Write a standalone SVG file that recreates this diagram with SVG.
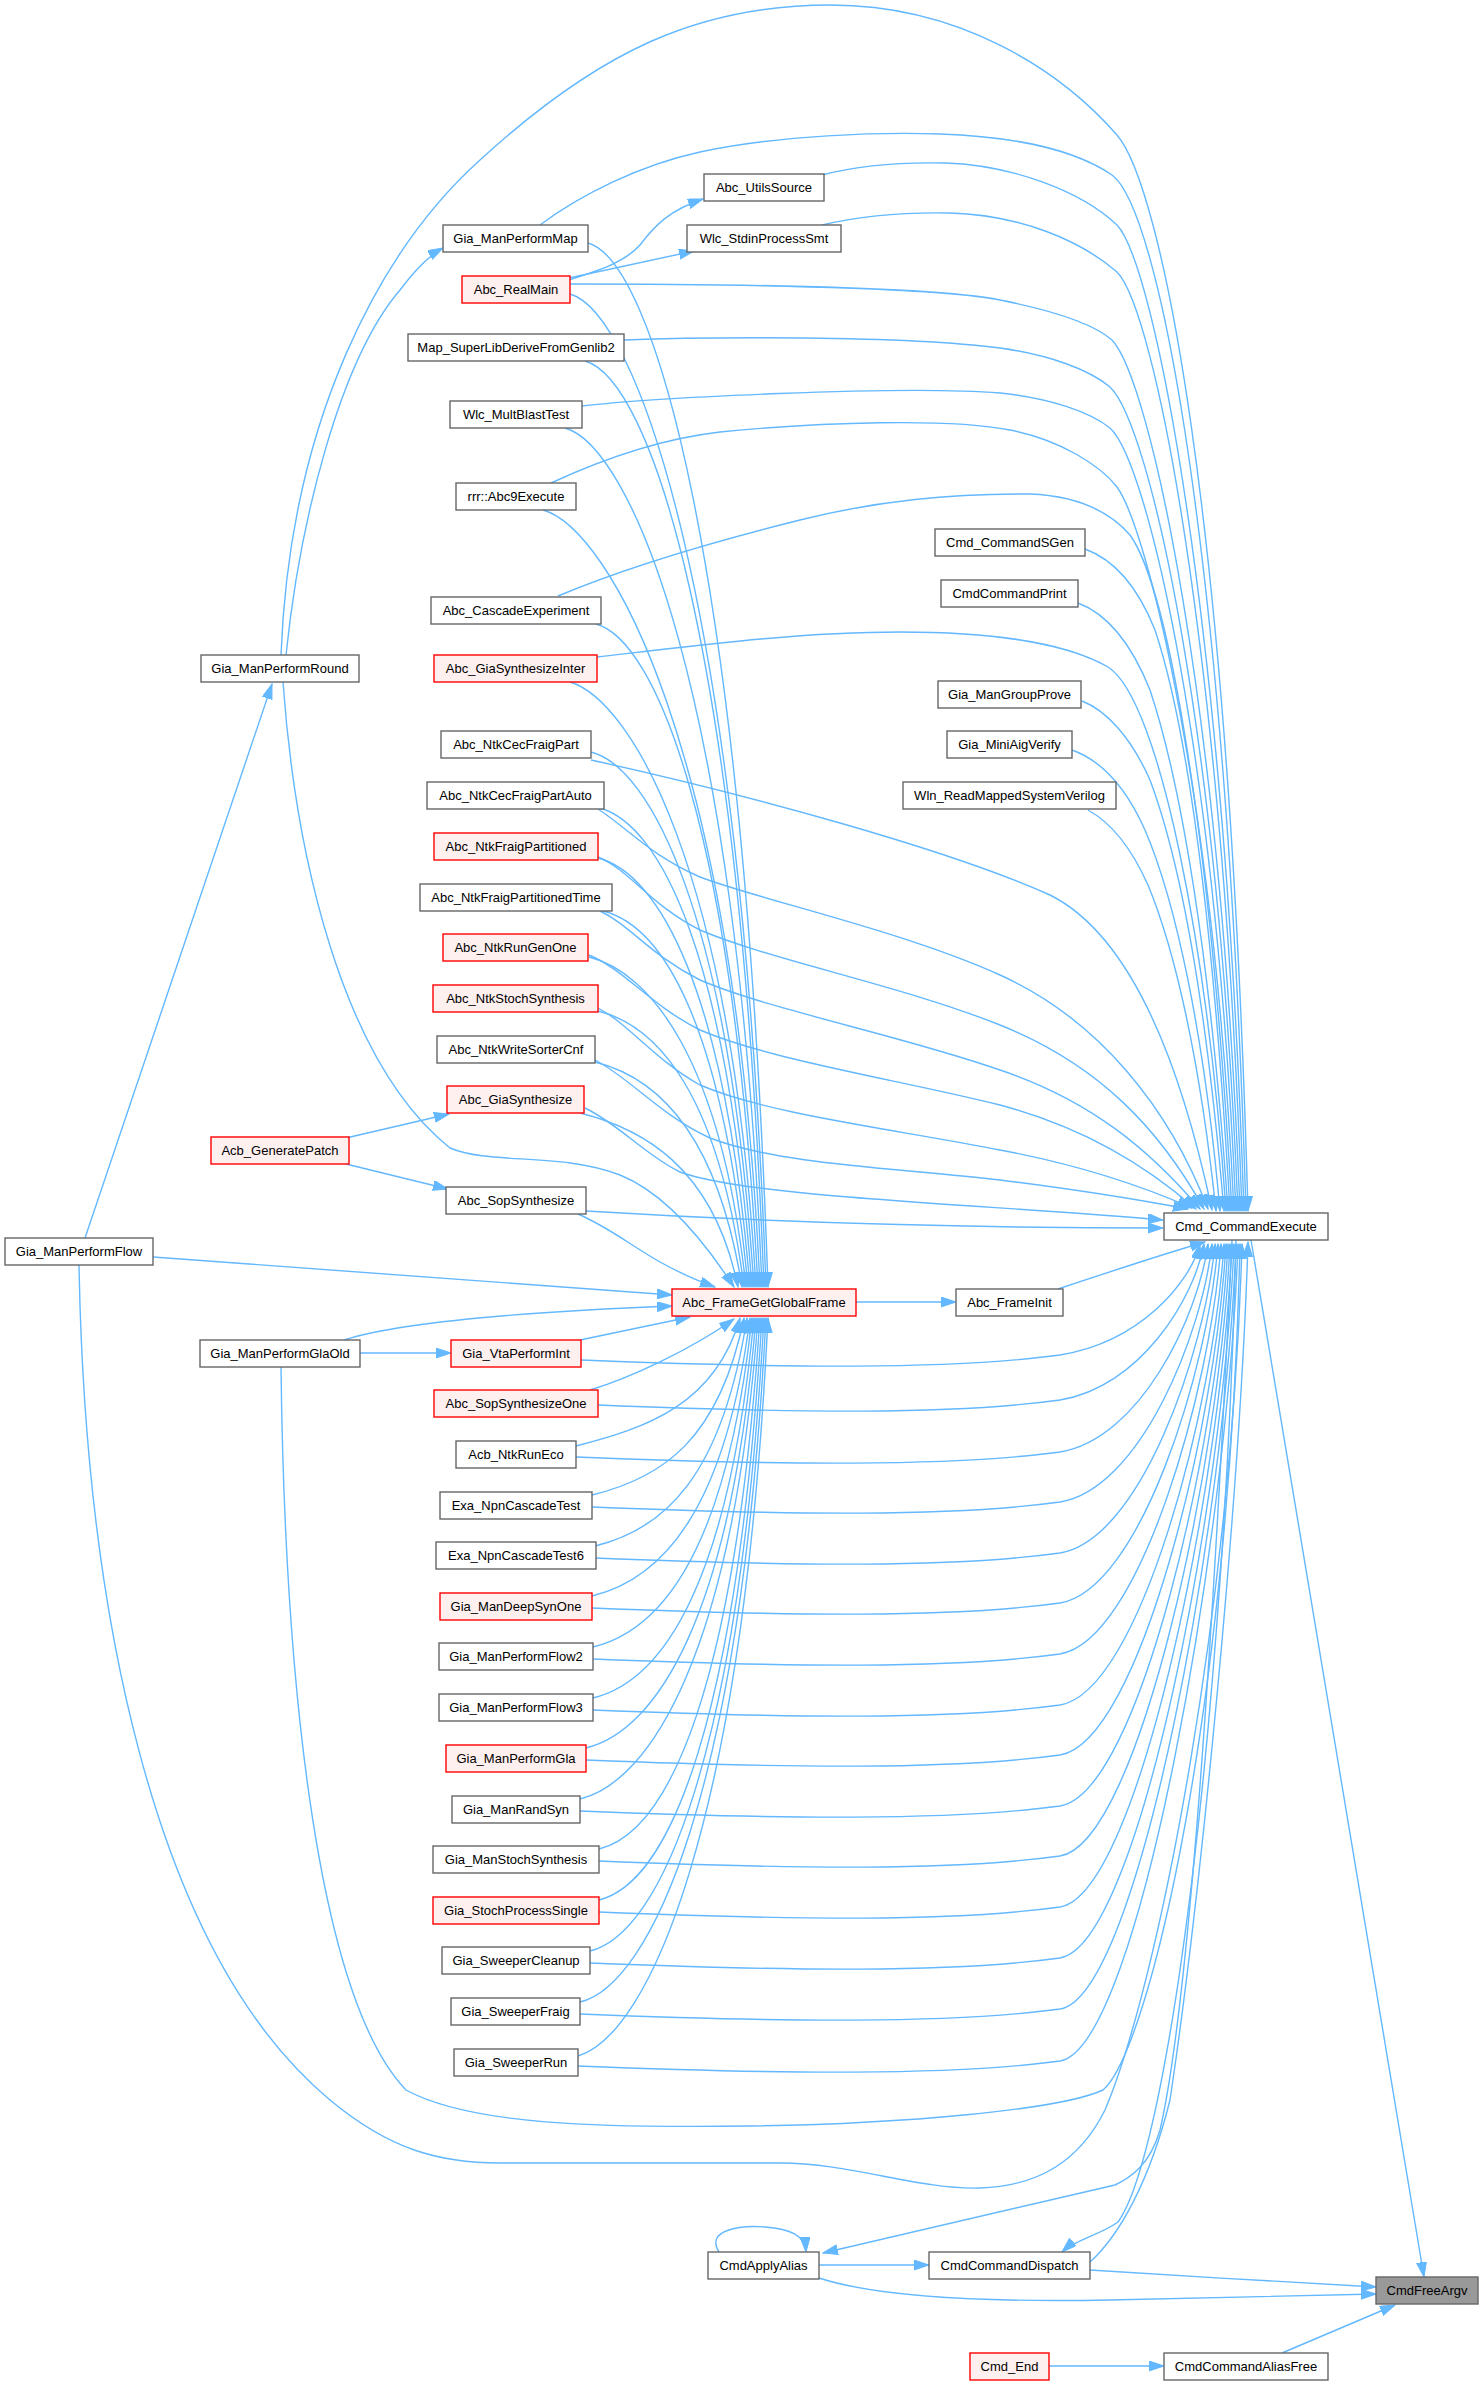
<svg xmlns="http://www.w3.org/2000/svg" width="1484" height="2385" viewBox="0 0 1484 2385">
<style>
.e{fill:none;stroke:#63b8ff;stroke-width:1.4;marker-end:url(#ah)}
.n rect{fill:#ffffff;stroke:#666666;stroke-width:1.4}
.r rect{fill:#fff0f0;stroke:#ff0000;stroke-width:1.4}
.g rect{fill:#999999;stroke:#666666;stroke-width:1.4}
text{font-family:"Liberation Sans",Arial,Helvetica,sans-serif;font-size:13px;fill:#000000;text-anchor:middle}
</style>
<defs>
<marker id="ah" markerUnits="userSpaceOnUse" markerWidth="16" markerHeight="12" refX="15" refY="5" orient="auto">
<path d="M0,0 L15,5 L0,10 z" fill="#63b8ff" stroke="#63b8ff" stroke-width="1"/>
</marker>
</defs>
<rect x="0" y="0" width="1484" height="2385" fill="#ffffff"/>
<g id="edges">
<path class="e" d="M1282,2353 L1395,2305"/>
<path class="e" d="M1049,2366 L1164,2366"/>
<path class="e" d="M1090,2270 C1180,2276 1290,2282 1376,2287"/>
<path class="e" d="M819,2278 C880,2298 1000,2302 1110,2300 C1220,2298 1320,2295 1376,2294"/>
<path class="e" d="M819,2265 L929,2265"/>
<path class="e" d="M719,2252 C705,2230 740,2225 765,2227 C790,2229 805,2235 806,2252"/>
<path class="e" d="M1232,1240 C1215,1600 1190,2000 1160,2130 C1150,2165 1130,2178 1115,2185 L823,2253"/>
<path class="e" d="M1236,1240 C1225,1700 1170,2150 1118,2222 C1100,2235 1075,2240 1062,2252"/>
<path class="e" d="M1090,2262 C1120,2235 1150,2180 1170,2100 C1200,1900 1240,1500 1248,1242"/>
<path class="e" d="M1251,1240 L1424,2277"/>
<path class="e" d="M1058,1289 C1100,1275 1160,1255 1205,1242"/>
<path class="e" d="M856,1302 L956,1302"/>
<path class="e" d="M281,655 C290,420 380,250 480,160 C600,50 700,5 830,5 C960,5 1060,70 1117,135 C1160,185 1228,500 1248,1211"/>
<path class="e" d="M540,225 C580,195 640,165 700,152 C780,135 880,132 940,134 C1020,137 1075,150 1112,175 C1160,210 1226,560 1246,1211"/>
<path class="e" d="M822,175 C860,165 900,162 945,163 C1010,165 1080,190 1117,225 C1155,265 1224,620 1244,1211"/>
<path class="e" d="M822,225 C860,216 900,212 950,213 C1020,215 1080,240 1117,272 C1155,310 1222,650 1242,1211"/>
<path class="e" d="M570,284 C800,284 950,290 1000,300 C1060,312 1095,325 1112,340 C1150,380 1220,700 1240,1211"/>
<path class="e" d="M624,340 C700,337 900,335 1000,348 C1050,355 1090,370 1110,387 C1150,425 1218,730 1238,1211"/>
<path class="e" d="M582,406 C650,398 900,385 1000,393 C1050,398 1090,412 1110,428 C1148,462 1216,760 1236,1211"/>
<path class="e" d="M551,483 C590,465 650,440 720,432 C820,422 950,418 1010,430 C1060,440 1100,465 1117,487 C1148,530 1214,800 1234,1211"/>
<path class="e" d="M558,596 C620,570 700,545 800,520 C880,500 950,494 1030,494 C1080,496 1110,512 1130,535 C1170,590 1212,850 1232,1211"/>
<path class="e" d="M1085,549 C1110,558 1135,580 1155,630 C1185,720 1212,900 1230,1211"/>
<path class="e" d="M1078,603 C1105,613 1130,640 1150,690 C1180,780 1210,950 1228,1211"/>
<path class="e" d="M597,657 C700,645 800,632 900,632 C1000,632 1070,645 1108,667 C1160,700 1208,950 1226,1211"/>
<path class="e" d="M1082,701 C1105,710 1130,735 1150,780 C1180,860 1206,1000 1224,1211"/>
<path class="e" d="M1072,750 C1100,760 1125,785 1145,830 C1175,900 1204,1030 1220,1211"/>
<path class="e" d="M1088,810 C1110,822 1130,845 1148,885 C1175,950 1200,1060 1216,1211"/>
<path class="e" d="M591,760 C750,795 950,850 1050,895 C1130,935 1180,1060 1212,1210"/>
<path class="e" d="M598,809 C630,830 650,855 700,877 C760,900 900,930 1000,975 C1100,1020 1170,1110 1208,1209"/>
<path class="e" d="M598,857 C630,870 650,905 700,930 C770,960 900,985 1000,1025 C1100,1065 1160,1130 1204,1209"/>
<path class="e" d="M600,911 C630,925 650,955 700,980 C770,1010 900,1035 1000,1070 C1090,1100 1150,1150 1200,1209"/>
<path class="e" d="M589,955 C625,970 650,1005 700,1030 C770,1060 900,1080 1000,1105 C1085,1128 1145,1165 1196,1209"/>
<path class="e" d="M598,1008 C630,1025 655,1060 700,1085 C770,1115 900,1130 1000,1150 C1080,1165 1140,1185 1192,1208"/>
<path class="e" d="M595,1060 C630,1078 660,1115 710,1138 C780,1165 900,1168 1000,1180 C1080,1190 1130,1198 1188,1209"/>
<path class="e" d="M585,1108 C620,1125 645,1155 680,1172 C750,1198 1000,1205 1163,1220"/>
<path class="e" d="M586,1211 C700,1218 900,1228 1163,1228"/>
<path class="e" d="M581,1360 C781,1368 950,1370 1060,1355 C1140,1342 1190,1283 1200,1244"/>
<path class="e" d="M598,1405 C798,1413 950,1415 1060,1400 C1140,1387 1194,1299 1204,1244"/>
<path class="e" d="M576,1457 C776,1465 950,1467 1060,1452 C1140,1439 1198,1317 1208,1244"/>
<path class="e" d="M592,1507 C792,1515 950,1517 1060,1502 C1140,1489 1202,1335 1212,1244"/>
<path class="e" d="M595,1558 C795,1566 950,1568 1060,1553 C1140,1540 1205,1353 1215,1244"/>
<path class="e" d="M592,1608 C792,1616 950,1618 1060,1603 C1140,1590 1208,1370 1218,1244"/>
<path class="e" d="M593,1659 C793,1667 950,1669 1060,1654 C1140,1641 1211,1388 1221,1244"/>
<path class="e" d="M593,1710 C793,1718 950,1720 1060,1705 C1140,1692 1214,1406 1224,1244"/>
<path class="e" d="M586,1760 C786,1768 950,1770 1060,1755 C1140,1742 1216,1423 1226,1244"/>
<path class="e" d="M580,1811 C780,1819 950,1821 1060,1806 C1140,1793 1218,1441 1228,1244"/>
<path class="e" d="M599,1861 C799,1869 950,1871 1060,1856 C1140,1843 1220,1459 1230,1244"/>
<path class="e" d="M599,1912 C799,1920 950,1922 1060,1907 C1140,1894 1222,1476 1232,1244"/>
<path class="e" d="M590,1963 C790,1971 950,1973 1060,1958 C1140,1945 1224,1494 1234,1244"/>
<path class="e" d="M580,2014 C780,2022 950,2024 1060,2009 C1140,1996 1226,1512 1236,1244"/>
<path class="e" d="M578,2066 C778,2074 950,2076 1060,2061 C1140,2048 1228,1530 1238,1244"/>
<path class="e" d="M281,1367 C285,1700 320,2000 406,2090 C470,2125 600,2128 750,2126 C900,2124 1060,2110 1103,2090 C1150,2050 1230,1700 1240,1244"/>
<path class="e" d="M79,1265 C85,1600 150,1950 330,2100 C390,2150 440,2163 500,2163 L780,2163 C850,2163 920,2190 980,2188 C1040,2186 1080,2160 1105,2110 C1160,1980 1232,1600 1242,1244"/>
<path class="e" d="M588,243 C653,261 743,556 768,1287"/>
<path class="e" d="M570,294 C635,312 741,592 766,1287"/>
<path class="e" d="M585,361 C650,379 739,639 764,1287"/>
<path class="e" d="M565,428 C630,446 737,686 762,1287"/>
<path class="e" d="M543,510 C608,528 735,743 760,1287"/>
<path class="e" d="M596,624 C655,640 733,823 758,1287"/>
<path class="e" d="M570,682 C630,700 731,864 756,1287"/>
<path class="e" d="M591,752 C650,767 729,913 754,1287"/>
<path class="e" d="M600,808 C660,825 727,952 752,1287"/>
<path class="e" d="M598,858 C658,873 725,987 750,1287"/>
<path class="e" d="M603,911 C663,926 723,1024 748,1287"/>
<path class="e" d="M589,957 C649,972 721,1056 746,1287"/>
<path class="e" d="M598,1011 C658,1026 719,1094 744,1287"/>
<path class="e" d="M595,1062 C655,1077 717,1130 742,1287"/>
<path class="e" d="M580,1113 C640,1128 713,1165 738,1287"/>
<path class="e" d="M578,1214 C610,1228 630,1245 660,1262 C680,1273 695,1280 715,1287"/>
<path class="e" d="M283,682 C295,850 340,1060 450,1148 C490,1165 560,1152 620,1175 C670,1195 710,1250 734,1287"/>
<path class="e" d="M153,1257 L672,1295"/>
<path class="e" d="M344,1340 C400,1322 520,1312 672,1306"/>
<path class="e" d="M580,1340 L690,1317"/>
<path class="e" d="M590,1390 C630,1378 690,1350 734,1319"/>
<path class="e" d="M576,1446 C646,1428 715,1405 740,1318"/>
<path class="e" d="M592,1495 C662,1478 719,1440 744,1318"/>
<path class="e" d="M595,1546 C665,1529 722,1476 747,1318"/>
<path class="e" d="M592,1596 C662,1579 725,1511 750,1318"/>
<path class="e" d="M593,1647 C663,1630 727,1547 752,1318"/>
<path class="e" d="M593,1698 C663,1681 729,1583 754,1318"/>
<path class="e" d="M586,1748 C656,1731 731,1618 756,1318"/>
<path class="e" d="M580,1799 C650,1782 733,1653 758,1318"/>
<path class="e" d="M599,1849 C669,1832 735,1688 760,1318"/>
<path class="e" d="M599,1900 C669,1883 737,1724 762,1318"/>
<path class="e" d="M590,1951 C660,1934 739,1760 764,1318"/>
<path class="e" d="M580,2002 C650,1985 741,1795 766,1318"/>
<path class="e" d="M578,2056 C648,2035 743,1830 768,1318"/>
<path class="e" d="M346,1138 L449,1114"/>
<path class="e" d="M346,1164 L448,1189"/>
<path class="e" d="M85,1238 L272,684"/>
<path class="e" d="M286,655 C300,520 340,360 400,290 C415,270 430,255 443,248"/>
<path class="e" d="M360,1353 L451,1353"/>
<path class="e" d="M569,280 C600,270 625,262 640,245 C655,225 670,210 703,199"/>
<path class="e" d="M569,278 L694,251"/>
</g>
<g id="n-CmdFreeArgv" class="g"><rect x="1376" y="2277" width="102" height="27"/><text x="1427" y="2295">CmdFreeArgv</text></g>
<g id="n-Cmd_CommandExecute" class="n"><rect x="1164" y="1213" width="164" height="27"/><text x="1246" y="1231">Cmd_CommandExecute</text></g>
<g id="n-CmdApplyAlias" class="n"><rect x="708" y="2252" width="111" height="27"/><text x="763.5" y="2270">CmdApplyAlias</text></g>
<g id="n-CmdCommandDispatch" class="n"><rect x="929" y="2252" width="161" height="27"/><text x="1009.5" y="2270">CmdCommandDispatch</text></g>
<g id="n-CmdCommandAliasFree" class="n"><rect x="1164" y="2353" width="164" height="27"/><text x="1246" y="2371">CmdCommandAliasFree</text></g>
<g id="n-Cmd_End" class="r"><rect x="970" y="2353" width="79" height="27"/><text x="1009.5" y="2371">Cmd_End</text></g>
<g id="n-Abc_FrameInit" class="n"><rect x="956" y="1289" width="107" height="27"/><text x="1009.5" y="1307">Abc_FrameInit</text></g>
<g id="n-Abc_FrameGetGlobalFrame" class="r"><rect x="672" y="1289" width="184" height="27"/><text x="764" y="1307">Abc_FrameGetGlobalFrame</text></g>
<g id="n-Abc_UtilsSource" class="n"><rect x="704" y="174" width="120" height="27"/><text x="764" y="192">Abc_UtilsSource</text></g>
<g id="n-Wlc_StdinProcessSmt" class="n"><rect x="687" y="225" width="154" height="27"/><text x="764" y="243">Wlc_StdinProcessSmt</text></g>
<g id="n-Cmd_CommandSGen" class="n"><rect x="935" y="529" width="150" height="27"/><text x="1010" y="547">Cmd_CommandSGen</text></g>
<g id="n-CmdCommandPrint" class="n"><rect x="941" y="580" width="137" height="27"/><text x="1009.5" y="598">CmdCommandPrint</text></g>
<g id="n-Gia_ManGroupProve" class="n"><rect x="938" y="681" width="143" height="27"/><text x="1009.5" y="699">Gia_ManGroupProve</text></g>
<g id="n-Gia_MiniAigVerify" class="n"><rect x="947" y="731" width="125" height="27"/><text x="1009.5" y="749">Gia_MiniAigVerify</text></g>
<g id="n-Wln_ReadMappedSystemVerilog" class="n"><rect x="903" y="782" width="213" height="27"/><text x="1009.5" y="800">Wln_ReadMappedSystemVerilog</text></g>
<g id="n-Gia_ManPerformFlow" class="n"><rect x="5" y="1238" width="148" height="27"/><text x="79" y="1256">Gia_ManPerformFlow</text></g>
<g id="n-Gia_ManPerformRound" class="n"><rect x="201" y="655" width="158" height="27"/><text x="280" y="673">Gia_ManPerformRound</text></g>
<g id="n-Acb_GeneratePatch" class="r"><rect x="211" y="1137" width="138" height="27"/><text x="280" y="1155">Acb_GeneratePatch</text></g>
<g id="n-Gia_ManPerformGlaOld" class="n"><rect x="200" y="1340" width="160" height="27"/><text x="280" y="1358">Gia_ManPerformGlaOld</text></g>
<g id="n-Gia_ManPerformMap" class="n"><rect x="443" y="225" width="145" height="27"/><text x="515.5" y="243">Gia_ManPerformMap</text></g>
<g id="n-Abc_RealMain" class="r"><rect x="462" y="276" width="108" height="27"/><text x="516" y="294">Abc_RealMain</text></g>
<g id="n-Map_SuperLibDeriveFromGenlib2" class="n"><rect x="408" y="334" width="216" height="27"/><text x="516" y="352">Map_SuperLibDeriveFromGenlib2</text></g>
<g id="n-Wlc_MultBlastTest" class="n"><rect x="450" y="401" width="132" height="27"/><text x="516" y="419">Wlc_MultBlastTest</text></g>
<g id="n-rrr_Abc9Execute" class="n"><rect x="456" y="483" width="120" height="27"/><text x="516" y="501">rrr::Abc9Execute</text></g>
<g id="n-Abc_CascadeExperiment" class="n"><rect x="431" y="597" width="170" height="27"/><text x="516" y="615">Abc_CascadeExperiment</text></g>
<g id="n-Abc_GiaSynthesizeInter" class="r"><rect x="434" y="655" width="163" height="27"/><text x="515.5" y="673">Abc_GiaSynthesizeInter</text></g>
<g id="n-Abc_NtkCecFraigPart" class="n"><rect x="441" y="731" width="150" height="27"/><text x="516" y="749">Abc_NtkCecFraigPart</text></g>
<g id="n-Abc_NtkCecFraigPartAuto" class="n"><rect x="427" y="782" width="177" height="27"/><text x="515.5" y="800">Abc_NtkCecFraigPartAuto</text></g>
<g id="n-Abc_NtkFraigPartitioned" class="r"><rect x="434" y="833" width="164" height="27"/><text x="516" y="851">Abc_NtkFraigPartitioned</text></g>
<g id="n-Abc_NtkFraigPartitionedTime" class="n"><rect x="420" y="884" width="192" height="27"/><text x="516" y="902">Abc_NtkFraigPartitionedTime</text></g>
<g id="n-Abc_NtkRunGenOne" class="r"><rect x="443" y="934" width="145" height="27"/><text x="515.5" y="952">Abc_NtkRunGenOne</text></g>
<g id="n-Abc_NtkStochSynthesis" class="r"><rect x="433" y="985" width="165" height="27"/><text x="515.5" y="1003">Abc_NtkStochSynthesis</text></g>
<g id="n-Abc_NtkWriteSorterCnf" class="n"><rect x="437" y="1036" width="158" height="27"/><text x="516" y="1054">Abc_NtkWriteSorterCnf</text></g>
<g id="n-Abc_GiaSynthesize" class="r"><rect x="447" y="1086" width="137" height="27"/><text x="515.5" y="1104">Abc_GiaSynthesize</text></g>
<g id="n-Abc_SopSynthesize" class="n"><rect x="446" y="1187" width="140" height="27"/><text x="516" y="1205">Abc_SopSynthesize</text></g>
<g id="n-Gia_VtaPerformInt" class="r"><rect x="451" y="1340" width="130" height="27"/><text x="516" y="1358">Gia_VtaPerformInt</text></g>
<g id="n-Abc_SopSynthesizeOne" class="r"><rect x="434" y="1390" width="164" height="27"/><text x="516" y="1408">Abc_SopSynthesizeOne</text></g>
<g id="n-Acb_NtkRunEco" class="n"><rect x="456" y="1441" width="120" height="27"/><text x="516" y="1459">Acb_NtkRunEco</text></g>
<g id="n-Exa_NpnCascadeTest" class="n"><rect x="440" y="1492" width="152" height="27"/><text x="516" y="1510">Exa_NpnCascadeTest</text></g>
<g id="n-Exa_NpnCascadeTest6" class="n"><rect x="436" y="1542" width="160" height="27"/><text x="516" y="1560">Exa_NpnCascadeTest6</text></g>
<g id="n-Gia_ManDeepSynOne" class="r"><rect x="440" y="1593" width="152" height="27"/><text x="516" y="1611">Gia_ManDeepSynOne</text></g>
<g id="n-Gia_ManPerformFlow2" class="n"><rect x="439" y="1643" width="154" height="27"/><text x="516" y="1661">Gia_ManPerformFlow2</text></g>
<g id="n-Gia_ManPerformFlow3" class="n"><rect x="439" y="1694" width="154" height="27"/><text x="516" y="1712">Gia_ManPerformFlow3</text></g>
<g id="n-Gia_ManPerformGla" class="r"><rect x="446" y="1745" width="140" height="27"/><text x="516" y="1763">Gia_ManPerformGla</text></g>
<g id="n-Gia_ManRandSyn" class="n"><rect x="452" y="1796" width="128" height="27"/><text x="516" y="1814">Gia_ManRandSyn</text></g>
<g id="n-Gia_ManStochSynthesis" class="n"><rect x="433" y="1846" width="166" height="27"/><text x="516" y="1864">Gia_ManStochSynthesis</text></g>
<g id="n-Gia_StochProcessSingle" class="r"><rect x="433" y="1897" width="166" height="27"/><text x="516" y="1915">Gia_StochProcessSingle</text></g>
<g id="n-Gia_SweeperCleanup" class="n"><rect x="442" y="1947" width="148" height="27"/><text x="516" y="1965">Gia_SweeperCleanup</text></g>
<g id="n-Gia_SweeperFraig" class="n"><rect x="451" y="1998" width="129" height="27"/><text x="515.5" y="2016">Gia_SweeperFraig</text></g>
<g id="n-Gia_SweeperRun" class="n"><rect x="454" y="2049" width="124" height="27"/><text x="516" y="2067">Gia_SweeperRun</text></g>
</svg>
